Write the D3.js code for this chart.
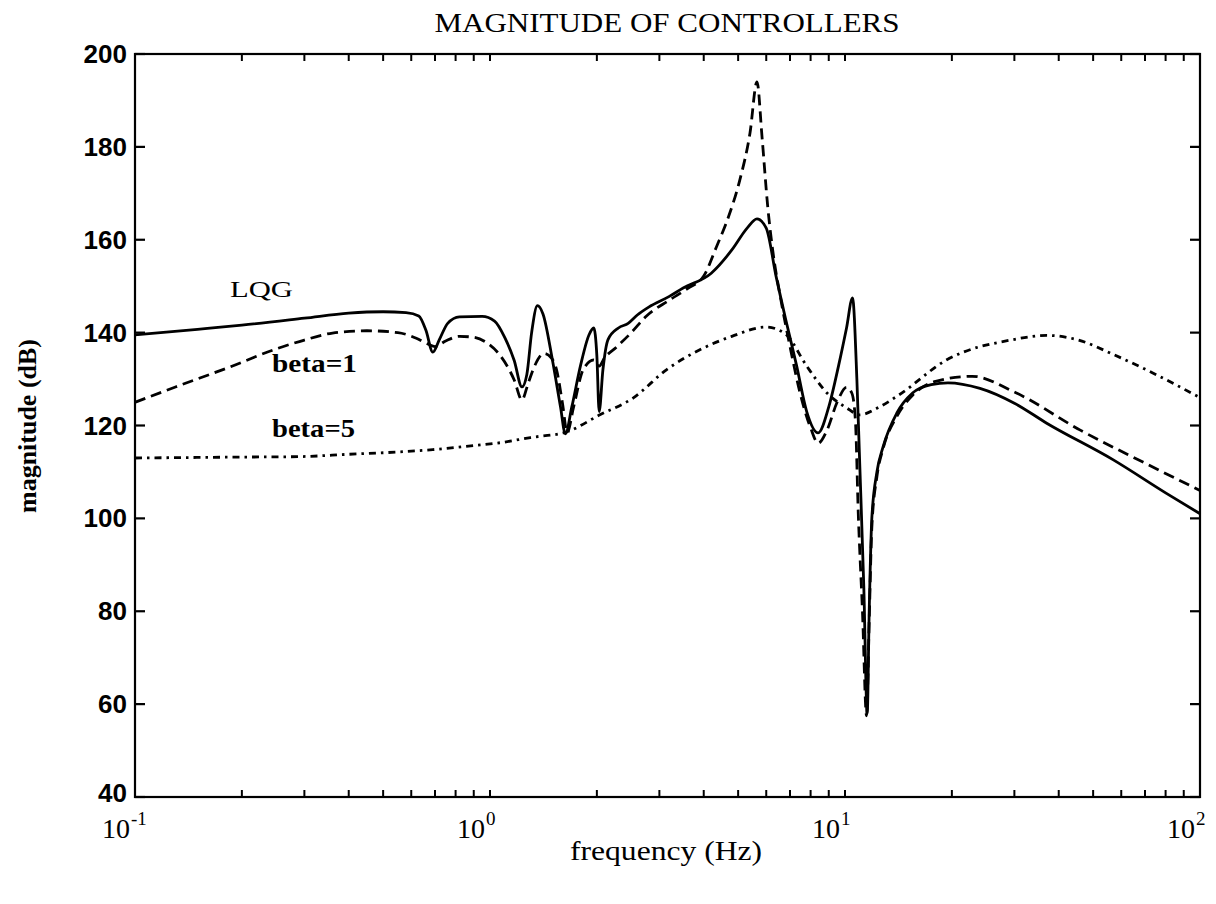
<!DOCTYPE html>
<html>
<head>
<meta charset="utf-8">
<script src="https://cdn.jsdelivr.net/npm/d3@7"></script>
<style>
  html, body { margin: 0; padding: 0; background: #fff; }
  svg { display: block; }
</style>
</head>
<body>
<svg id="chart" width="1216" height="904"></svg>
<script>
// ---- data ----
const titleText = "MAGNITUDE OF CONTROLLERS";
const xLabelText = "frequency (Hz)";
const yLabelText = "magnitude (dB)";
const yTicks = [40, 60, 80, 100, 120, 140, 160, 180, 200];
const xDecades = [-1, 0, 1, 2];

const freqLQG = [0.1, 0.15, 0.2, 0.3, 0.4, 0.5, 0.58, 0.63, 0.66, 0.69, 0.72, 0.76, 0.82, 0.95, 1.03, 1.1, 1.17, 1.23, 1.27, 1.31, 1.36, 1.41, 1.5, 1.58, 1.63, 1.7, 1.8, 1.9, 1.96, 2.0, 2.03, 2.08, 2.15, 2.3, 2.45, 2.6, 2.8, 3.2, 3.5, 4.2, 4.8, 5.3, 5.65, 6.0, 6.4, 6.8, 7.3, 7.8, 8.4, 9.0, 9.6, 10.1, 10.5, 10.8, 11.0, 11.3, 11.55, 11.7, 11.9, 12.3, 12.8, 14, 15.5, 17.5, 19.5, 24, 30, 37, 57, 80, 100];
const magLQG  = [139.5, 140.7, 141.6, 143.1, 144.2, 144.5, 144.3, 143.6, 140.5, 135.8, 138.5, 142, 143.4, 143.5, 142.5, 139, 134, 128.3, 131, 140, 145.8, 144, 134, 124, 118.2, 124, 133, 139.5, 141, 135, 123, 132, 138.5, 141, 142, 143.8, 145.5, 147.8, 149.6, 152.8, 157.8, 162.5, 164.5, 162.5, 152, 143, 133, 123, 118.4, 124, 133, 141, 147.5, 130, 112, 85, 58, 80, 100, 110, 115.4, 122.7, 127, 128.8, 129.2, 128, 124.8, 120.5, 112.6, 105.5, 101];

const freqBeta1 = [0.1, 0.13, 0.185, 0.25, 0.3, 0.36, 0.45, 0.55, 0.62, 0.67, 0.7, 0.75, 0.82, 0.9, 0.98, 1.07, 1.17, 1.23, 1.28, 1.33, 1.42, 1.49, 1.54, 1.6, 1.65, 1.72, 1.83, 1.96, 2.03, 2.1, 2.28, 2.5, 2.76, 3.2, 3.6, 4.0, 4.34, 4.7, 5.06, 5.4, 5.65, 5.84, 6.06, 6.25, 6.6, 7.0, 7.5, 8.0, 8.4, 8.9, 9.5, 10.1, 10.45, 10.7, 10.9, 11.2, 11.5, 11.7, 11.9, 12.3, 12.8, 14, 15.5, 18, 22.8, 30, 46, 70, 100];
const magBeta1  = [125, 128.3, 132.6, 136.5, 138.4, 139.9, 140.4, 140, 138.8, 137.5, 137, 138.2, 139.2, 139, 137.8, 135, 129.8, 125.5, 129, 132.5, 135.5, 134.5, 132, 124.8, 118.5, 124, 132, 134.1, 132.8, 134.5, 137, 140, 143.6, 147, 149.5, 152.2, 158.4, 165, 173, 183, 194, 182, 167, 158, 147, 137, 126.5, 119.5, 116.2, 119, 125, 128.2, 127, 121, 101, 80, 57.5, 78, 98, 109, 115, 122, 126.5, 129.5, 130.6, 127.2, 119, 111.9, 106];

const freqBeta5 = [0.1, 0.2, 0.29, 0.4, 0.55, 0.69, 0.85, 1.07, 1.3, 1.64, 2.04, 2.54, 3.14, 3.9, 4.8, 6.0, 6.8, 7.8, 8.9, 10.1, 11.0, 12.5, 14.2, 19.3, 29.8, 37, 45, 57, 75, 100];
const magBeta5  = [113, 113.2, 113.3, 113.8, 114.3, 114.8, 115.5, 116.3, 117.4, 118.6, 122.3, 126, 132, 136.3, 139.2, 141.2, 139.7, 132.8, 127, 123.8, 122.3, 124, 126.6, 134.1, 138.5, 139.4, 138.5, 135.3, 131, 126];

const seriesLabels = ["LQG", "beta=1", "beta=5"];

// ---- layout ----
const svg = d3.select("#chart");
const L = 135, R = 1200, T = 54, B = 797;
const x = d3.scaleLog().domain([0.1, 100]).range([L, R]);
const y = d3.scaleLinear().domain([40, 200]).range([B, T]);

const serif = "'Liberation Serif', 'DejaVu Serif', serif";
const sans = "'Liberation Sans', Arial, sans-serif";

// frame
svg.append("rect").attr("x", L).attr("y", T).attr("width", R - L).attr("height", B - T)
  .attr("fill", "none").attr("stroke", "#000").attr("stroke-width", 2.2);

// x ticks (minor + major), top and bottom, inward
const xTickVals = [];
for (const d of xDecades) {
  for (let m = 1; m <= 9; m++) {
    const v = m * Math.pow(10, d);
    if (v >= 0.1 && v <= 100) xTickVals.push(v);
  }
}
const gx = svg.append("g");
xTickVals.forEach(v => {
  gx.append("line").attr("x1", x(v)).attr("x2", x(v)).attr("y1", B).attr("y2", B - 7)
    .attr("stroke", "#000").attr("stroke-width", 2);
  gx.append("line").attr("x1", x(v)).attr("x2", x(v)).attr("y1", T).attr("y2", T + 7)
    .attr("stroke", "#000").attr("stroke-width", 2);
});

// y ticks both sides, inward
const gy = svg.append("g");
yTicks.forEach(v => {
  gy.append("line").attr("x1", L).attr("x2", L + 10).attr("y1", y(v)).attr("y2", y(v))
    .attr("stroke", "#000").attr("stroke-width", 2.2);
  gy.append("line").attr("x1", R).attr("x2", R - 10).attr("y1", y(v)).attr("y2", y(v))
    .attr("stroke", "#000").attr("stroke-width", 2.2);
  gy.append("text").attr("x", L - 8).attr("y", y(v) + (v === 40 ? 5 : 9))
    .attr("text-anchor", "end").attr("font-family", sans).attr("font-weight", "bold")
    .attr("font-size", 26).text(v);
});

// x tick labels 10^n
xDecades.forEach(d => {
  const tx = x(Math.pow(10, d));
  svg.append("text").attr("y", 838).attr("font-family", serif).attr("font-size", 28)
    .attr("x", tx - 5).attr("text-anchor", "end").text("10");
  svg.append("text").attr("x", tx - 4).attr("y", 825).attr("font-family", serif)
    .attr("font-size", 19).attr("text-anchor", "start").text(String(d));
});

// title and axis labels
svg.append("text").attr("x", 667).attr("y", 32).attr("text-anchor", "middle")
  .attr("font-family", serif).attr("font-size", 28)
  .attr("textLength", 465).attr("lengthAdjust", "spacingAndGlyphs").text(titleText);
svg.append("text").attr("x", 666).attr("y", 860).attr("text-anchor", "middle")
  .attr("font-family", serif).attr("font-size", 27)
  .attr("textLength", 192).attr("lengthAdjust", "spacingAndGlyphs").text(xLabelText);
svg.append("text").attr("transform", "translate(36,426) rotate(-90)").attr("text-anchor", "middle")
  .attr("font-family", serif).attr("font-weight", "bold").attr("font-size", 26)
  .attr("textLength", 174).attr("lengthAdjust", "spacingAndGlyphs").text(yLabelText);

// curves
const line = d3.line().x(d => x(d[0])).y(d => y(d[1])).curve(d3.curveMonotoneX);
const series = [
  { f: freqLQG, m: magLQG, dash: null },
  { f: freqBeta1, m: magBeta1, dash: "11,6" },
  { f: freqBeta5, m: magBeta5, dash: "7,5,2.5,5" }
];
series.forEach(s => {
  svg.append("path").datum(s.f.map((f, i) => [f, s.m[i]]))
    .attr("d", line).attr("fill", "none").attr("stroke", "#000")
    .attr("stroke-width", 2.8).attr("stroke-linejoin", "round")
    .attr("stroke-dasharray", s.dash);
});

// in-plot labels
svg.append("text").attr("x", 230).attr("y", 297).attr("font-family", serif).attr("font-size", 24)
  .attr("textLength", 63).attr("lengthAdjust", "spacingAndGlyphs").text(seriesLabels[0]);
svg.append("text").attr("x", 272).attr("y", 372).attr("font-family", serif).attr("font-weight", "bold")
  .attr("font-size", 25).attr("textLength", 85).attr("lengthAdjust", "spacingAndGlyphs").text(seriesLabels[1]);
svg.append("text").attr("x", 272).attr("y", 437).attr("font-family", serif).attr("font-weight", "bold")
  .attr("font-size", 25).attr("textLength", 83).attr("lengthAdjust", "spacingAndGlyphs").text(seriesLabels[2]);
</script>
</body>
</html>
